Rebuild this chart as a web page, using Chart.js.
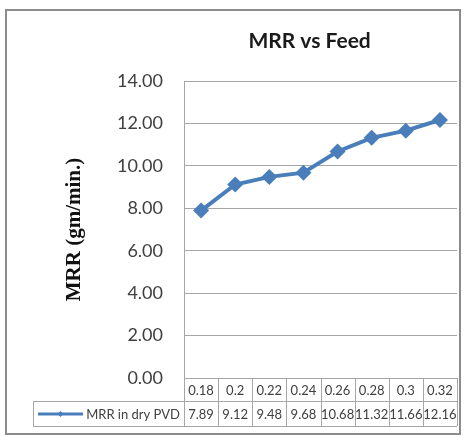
<!DOCTYPE html>
<html>
<head>
<meta charset="utf-8">
<script src="https://cdn.jsdelivr.net/npm/chart.js@4"></script>
<style>
  html, body { margin: 0; padding: 0; background: #fff; }
  #wrap { width: 465px; height: 436px; }
</style>
</head>
<body>
<div id="wrap"><canvas id="chart" width="465" height="436"></canvas></div>
<script>
// MRR vs Feed - line chart with Excel-style data table

const feedLabels = ['0.18', '0.2', '0.22', '0.24', '0.26', '0.28', '0.3', '0.32'];
const mrrValues = [7.89, 9.12, 9.48, 9.68, 10.68, 11.32, 11.66, 12.16];
const seriesName = 'MRR in dry PVD';
const chartTitle = 'MRR vs Feed';
const yTicks = [0, 2, 4, 6, 8, 10, 12, 14];

const BLUE = '#4a7ebb';
const GRID = '#a6a6a6';
const TEXT = '#404040';

// title, outer frame + data table under the plot
const tablePlugin = {
  id: 'dataTable',
  afterDraw(chart) {
    const { ctx, chartArea } = chart;
    const x = chart.scales.x;
    const top = chartArea.bottom;
    const row1 = top + 23;
    const row2 = row1 + 25;
    const legendLeft = 33;
    const half = (x.getPixelForValue(1) - x.getPixelForValue(0)) / 2;

    ctx.save();
    // title, a bit left of the plot centre like Excel puts it
    ctx.fillStyle = '#1a1a1a';
    ctx.font = 'bold 21px Lato, "Open Sans", sans-serif';
    ctx.textAlign = 'center';
    ctx.textBaseline = 'middle';
    ctx.fillText(chartTitle, chartArea.left + chartArea.width * 0.46, 41);

    ctx.strokeStyle = GRID;
    ctx.lineWidth = 1;
    ctx.beginPath();
    ctx.moveTo(chartArea.left, top + 0.5);
    ctx.lineTo(chartArea.right, top + 0.5);
    ctx.moveTo(legendLeft, row1 + 0.5);
    ctx.lineTo(chartArea.right, row1 + 0.5);
    ctx.moveTo(legendLeft, row2 + 0.5);
    ctx.lineTo(chartArea.right, row2 + 0.5);
    ctx.moveTo(legendLeft + 0.5, row1);
    ctx.lineTo(legendLeft + 0.5, row2);
    for (let i = 0; i <= feedLabels.length; i++) {
      const px = Math.round(x.getPixelForValue(i) - half) + 0.5;
      ctx.moveTo(px, top);
      ctx.lineTo(px, row2);
    }
    ctx.stroke();

    ctx.fillStyle = TEXT;
    ctx.font = '13px Lato, "Open Sans", sans-serif';
    feedLabels.forEach((lab, i) => {
      const px = x.getPixelForValue(i);
      ctx.fillText(lab, px, (top + row1) / 2 + 1);
      ctx.fillText(mrrValues[i].toFixed(2), px, (row1 + row2) / 2 + 1);
    });

    // legend key
    const ky = (row1 + row2) / 2 + 0.5;
    ctx.strokeStyle = BLUE;
    ctx.lineWidth = 3;
    ctx.beginPath();
    ctx.moveTo(38, ky);
    ctx.lineTo(83, ky);
    ctx.stroke();
    ctx.fillStyle = BLUE;
    ctx.beginPath();
    ctx.moveTo(60.5, ky - 3);
    ctx.lineTo(63.5, ky);
    ctx.lineTo(60.5, ky + 3);
    ctx.lineTo(57.5, ky);
    ctx.closePath();
    ctx.fill();
    ctx.fillStyle = TEXT;
    ctx.textAlign = 'right';
    ctx.fillText(seriesName, chartArea.left - 4, ky + 0.5);

    // chart frame
    ctx.strokeStyle = '#8c8c8c';
    ctx.lineWidth = 2;
    ctx.strokeRect(6, 10, 454, 424);
    ctx.restore();
  }
};

new Chart(document.getElementById('chart'), {
  type: 'line',
  data: {
    labels: feedLabels,
    datasets: [{
      label: seriesName,
      data: mrrValues,
      borderColor: BLUE,
      backgroundColor: BLUE,
      borderWidth: 4,
      pointStyle: 'rectRot',
      pointRadius: 8,
      pointBorderWidth: 0,
      tension: 0,
    }]
  },
  options: {
    responsive: false,
    animation: false,
    layout: { padding: { left: 0, right: 6, top: 81, bottom: 0 } },
    plugins: {
      legend: { display: false },
      tooltip: { enabled: false },
      title: { display: false }
    },
    scales: {
      x: {
        type: 'category',
        offset: true,
        grid: { display: false },
        border: { display: false },
        ticks: { display: false },
        afterFit(scale) { scale.height = 58; }
      },
      y: {
        min: 0,
        max: 14,
        afterBuildTicks(scale) { scale.ticks = yTicks.map(v => ({ value: v })); },
        ticks: {
          padding: 21,
          color: TEXT,
          font: { family: 'Lato, "Open Sans", sans-serif', size: 18 },
          callback: v => v.toFixed(2)
        },
        grid: { color: GRID, drawTicks: false },
        border: { color: GRID },
        title: {
          display: true,
          text: 'MRR (gm/min.)',
          color: '#111',
          font: { family: '"Liberation Serif", "DejaVu Serif", serif', size: 21, weight: 'bold' },
          padding: { top: 62, bottom: 0 }
        },
        afterFit(scale) { scale.width = 184; }
      }
    }
  },
  plugins: [tablePlugin]
});
</script>
</body>
</html>
